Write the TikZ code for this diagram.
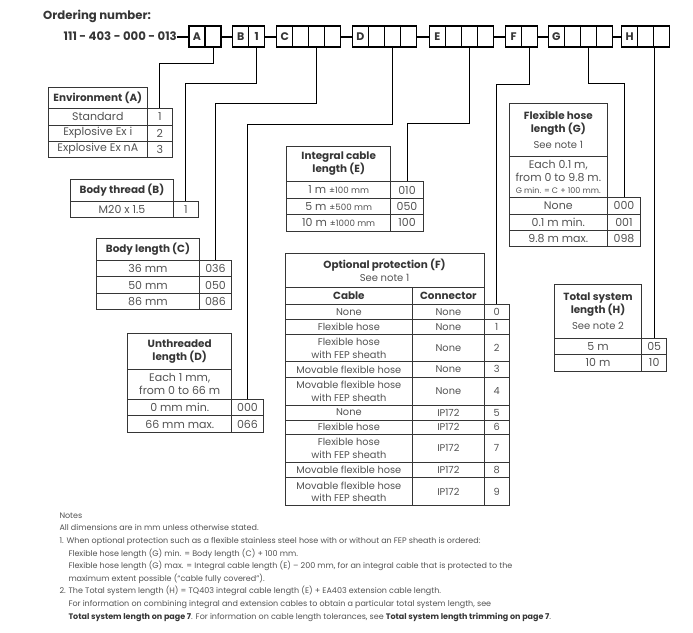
\documentclass[tikz,border=0pt]{standalone}
\usepackage{fontspec}
\setmainfont{Poppins}
\usetikzlibrary{calc}
\definecolor{txt}{HTML}{525252}
\definecolor{hdr}{HTML}{363636}
\newcommand\bodyf{\fontsize{11}{13.3}\selectfont}
\newcommand\hdrf{\fontsize{10.4}{13}\selectfont\bfseries}
\newcommand\opf{\fontsize{9.8}{12.8}\selectfont}
\newcommand\seef{\fontsize{10}{11}\selectfont\mdseries\color{txt}}
\newcommand\tinyf{\fontsize{8}{9}\selectfont}
\newcommand\smallpm{\fontsize{8.7}{10}\selectfont}
\newcommand\notef{\fontsize{8}{12.6}\selectfont}
\newcommand\topf{\fontsize{11}{13}\selectfont\bfseries}
\newcommand\titlef{\fontsize{11.7}{13}\selectfont\bfseries}
\newcommand\mkcell[7][]{\node[cellbox,#1,minimum width={(#5-#3)*1pt},minimum height={(#6-#4)*1pt}] (#2) at ({(#3+#5)/2},{(#4+#6)/2}) {#7};}
\begin{document}
\begin{tikzpicture}[x=1pt,y=-1pt,
 cellbox/.style={draw=hdr, line width=0.9pt, inner sep=0pt, align=center, text=txt, font=\bodyf},
 hdrbox/.style={text=hdr, font=\hdrf},
 opbox/.style={font=\opf},
 topcell/.style={draw=black, line width=1.2pt, inner sep=0pt, minimum width=16pt, minimum height=21pt, font=\topf, text=hdr},
 conn/.style={draw=black, line width=1pt},
 bar/.style={draw=black, line width=2pt}]
\useasboundingbox (0,0) rectangle (693,632);
% ordering number
\node[font=\titlef, text=hdr, anchor=west, inner sep=0pt] (title) at (43,16.5) {Ordering number:};
\node[font=\titlef, text=hdr, anchor=east, inner sep=0pt] (code) at (177,36.5) {111 - 403 - 000 - 013};
\node[topcell] (Aa) at (197,36.5) {A};
\node[topcell] (A1) at (213,36.5) {};
\node[topcell] (Ba) at (240.7,36.5) {B};
\node[topcell] (B1) at (256.7,36.5) {1};
\node[topcell] (Ca) at (284.7,36.5) {C};
\node[topcell] (C1) at (300.7,36.5) {};
\node[topcell] (C2) at (316.7,36.5) {};
\node[topcell] (C3) at (332.7,36.5) {};
\node[topcell] (Da) at (360.3,36.5) {D};
\node[topcell] (D1) at (376.3,36.5) {};
\node[topcell] (D2) at (392.3,36.5) {};
\node[topcell] (D3) at (408.3,36.5) {};
\node[topcell] (Ea) at (437.3,36.5) {E};
\node[topcell] (E1) at (453.3,36.5) {};
\node[topcell] (E2) at (469.3,36.5) {};
\node[topcell] (E3) at (485.3,36.5) {};
\node[topcell] (Fa) at (513.7,36.5) {F};
\node[topcell] (F1) at (529.7,36.5) {};
\node[topcell] (Ga) at (556.3,36.5) {G};
\node[topcell] (G1) at (572.3,36.5) {};
\node[topcell] (G2) at (588.3,36.5) {};
\node[topcell] (G3) at (604.3,36.5) {};
\node[topcell] (Ha) at (629.7,36.5) {H};
\node[topcell] (H1) at (645.7,36.5) {};
\node[topcell] (H2) at (661.7,36.5) {};
\draw[bar] (code.east) -- (Aa.west);
\draw[bar] (A1.east) -- (Ba.west);
\draw[bar] (B1.east) -- (Ca.west);
\draw[bar] (C3.east) -- (Da.west);
\draw[bar] (D3.east) -- (Ea.west);
\draw[bar] (E3.east) -- (Fa.west);
\draw[bar] (F1.east) -- (Ga.west);
\draw[bar] (G3.east) -- (Ha.west);
% Environment (A)
\mkcell[hdrbox]{envh}{48.3}{87.3}{147.3}{108.3}{Environment (A)}
\mkcell{envl1}{48.3}{108.3}{147.3}{125}{Standard}
\mkcell{envn1}{147.3}{108.3}{172.3}{125}{1}
\mkcell{envl2}{48.3}{125}{147.3}{141}{Explosive Ex i}
\mkcell{envn2}{147.3}{125}{172.3}{141}{2}
\mkcell{envl3}{48.3}{141}{147.3}{157.3}{Explosive Ex nA}
\mkcell{envn3}{147.3}{141}{172.3}{157.3}{3}
% Body thread (B)
\mkcell[hdrbox]{bth}{70.7}{179.3}{173.3}{201.7}{Body thread (B)}
\mkcell{btl1}{70.7}{201.7}{173.3}{217.3}{M20 x 1.5}
\mkcell{btn1}{173.3}{201.7}{198.3}{217.3}{1}
% Body length (C)
\mkcell[hdrbox]{blh}{96.7}{238.3}{199.3}{260}{Body length (C)}
\mkcell{bll1}{96.7}{260}{199.3}{276.7}{36 mm}
\mkcell{bln1}{199.3}{260}{231.7}{276.7}{036}
\mkcell{bll2}{96.7}{276.7}{199.3}{293.3}{50 mm}
\mkcell{bln2}{199.3}{276.7}{231.7}{293.3}{050}
\mkcell{bll3}{96.7}{293.3}{199.3}{309.3}{86 mm}
\mkcell{bln3}{199.3}{293.3}{231.7}{309.3}{086}
% Unthreaded length (D)
\mkcell[hdrbox]{uth}{127.7}{333.3}{231.7}{369.3}{Unthreaded\\length (D)}
\mkcell{uts}{127.7}{369.3}{231.7}{399.3}{Each 1 mm,\\from 0 to 66 m}
\mkcell{utl1}{127.7}{399.3}{231.7}{415.7}{0 mm min.}
\mkcell{utn1}{231.7}{399.3}{263.3}{415.7}{000}
\mkcell{utl2}{127.7}{415.7}{231.7}{432.3}{66 mm max.}
\mkcell{utn2}{231.7}{415.7}{263.3}{432.3}{066}
% Integral cable length (E)
\mkcell[hdrbox]{ich}{286.7}{146}{390.7}{181.7}{Integral cable\\length (E)}
\mkcell{icl1}{286.7}{181.7}{390.7}{198.3}{1 m {\smallpm ±100 mm}}
\mkcell{icn1}{390.7}{181.7}{423.3}{198.3}{010}
\mkcell{icl2}{286.7}{198.3}{390.7}{214.3}{5 m {\smallpm ±500 mm}}
\mkcell{icn2}{390.7}{198.3}{423.3}{214.3}{050}
\mkcell{icl3}{286.7}{214.3}{390.7}{231}{10 m {\smallpm ±1000 mm}}
\mkcell{icn3}{390.7}{214.3}{423.3}{231}{100}
% Optional protection (F)
\mkcell[hdrbox]{oph}{285}{253.3}{484}{287.3}{Optional protection (F)\\{\seef See note 1}}
\mkcell[hdrbox]{opc}{285}{287.3}{412.7}{304}{Cable}
\mkcell[hdrbox]{opk}{412.7}{287.3}{484}{304}{Connector}
\mkcell[opbox]{opa0}{285}{304}{412.7}{319.3}{None}
\mkcell[opbox]{opb0}{412.7}{304}{484}{319.3}{None}
\mkcell[opbox]{opn0}{484}{304}{509.3}{319.3}{0}
\mkcell[opbox]{opa1}{285}{319.3}{412.7}{334.3}{Flexible hose}
\mkcell[opbox]{opb1}{412.7}{319.3}{484}{334.3}{None}
\mkcell[opbox]{opn1}{484}{319.3}{509.3}{334.3}{1}
\mkcell[opbox]{opa2}{285}{334.3}{412.7}{361.7}{Flexible hose\\with FEP sheath}
\mkcell[opbox]{opb2}{412.7}{334.3}{484}{361.7}{None}
\mkcell[opbox]{opn2}{484}{334.3}{509.3}{361.7}{2}
\mkcell[opbox]{opa3}{285}{361.7}{412.7}{377}{Movable flexible hose}
\mkcell[opbox]{opb3}{412.7}{361.7}{484}{377}{None}
\mkcell[opbox]{opn3}{484}{361.7}{509.3}{377}{3}
\mkcell[opbox]{opa4}{285}{377}{412.7}{405}{Movable flexible hose\\with FEP sheath}
\mkcell[opbox]{opb4}{412.7}{377}{484}{405}{None}
\mkcell[opbox]{opn4}{484}{377}{509.3}{405}{4}
\mkcell[opbox]{opa5}{285}{405}{412.7}{420}{None}
\mkcell[opbox]{opb5}{412.7}{405}{484}{420}{IP172}
\mkcell[opbox]{opn5}{484}{405}{509.3}{420}{5}
\mkcell[opbox]{opa6}{285}{420}{412.7}{434.3}{Flexible hose}
\mkcell[opbox]{opb6}{412.7}{420}{484}{434.3}{IP172}
\mkcell[opbox]{opn6}{484}{420}{509.3}{434.3}{6}
\mkcell[opbox]{opa7}{285}{434.3}{412.7}{462.3}{Flexible hose\\with FEP sheath}
\mkcell[opbox]{opb7}{412.7}{434.3}{484}{462.3}{IP172}
\mkcell[opbox]{opn7}{484}{434.3}{509.3}{462.3}{7}
\mkcell[opbox]{opa8}{285}{462.3}{412.7}{477.7}{Movable flexible hose}
\mkcell[opbox]{opb8}{412.7}{462.3}{484}{477.7}{IP172}
\mkcell[opbox]{opn8}{484}{462.3}{509.3}{477.7}{8}
\mkcell[opbox]{opa9}{285}{477.7}{412.7}{505.7}{Movable flexible hose\\with FEP sheath}
\mkcell[opbox]{opb9}{412.7}{477.7}{484}{505.7}{IP172}
\mkcell[opbox]{opn9}{484}{477.7}{509.3}{505.7}{9}
% Flexible hose length (G)
\mkcell[hdrbox]{fhh}{509.3}{103.3}{607.3}{156}{Flexible hose\\length (G)\\[3pt]{\seef See note 1}}
\mkcell{fhs}{509.3}{156}{607.3}{197.3}{Each 0.1 m,\\from 0 to 9.8 m.\\[-1.5pt]{\tinyf G min. = C + 100 mm.}}
\mkcell{fhl1}{509.3}{197.3}{607.3}{214.3}{None}
\mkcell{fhn1}{607.3}{197.3}{640.7}{214.3}{000}
\mkcell{fhl2}{509.3}{214.3}{607.3}{230.3}{0.1 m min.}
\mkcell{fhn2}{607.3}{214.3}{640.7}{230.3}{001}
\mkcell{fhl3}{509.3}{230.3}{607.3}{246.7}{9.8 m max.}
\mkcell{fhn3}{607.3}{230.3}{640.7}{246.7}{098}
% Total system length (H)
\mkcell[hdrbox]{tsh}{554.3}{284.3}{641.7}{338.3}{Total system\\length (H)\\[3pt]{\seef See note 2}}
\mkcell{tsl1}{554.3}{338.3}{641.7}{354.3}{5 m}
\mkcell{tsn1}{641.7}{338.3}{666.7}{354.3}{05}
\mkcell{tsl2}{554.3}{354.3}{641.7}{371}{10 m}
\mkcell{tsn2}{641.7}{354.3}{666.7}{371}{10}
% connectors
\draw[conn] (A1.south) -- ++(0,16.3) -| (envn1.north);
\draw[conn] (B1.south) -- ++(0,36.3) -| (btn1.north);
\draw[conn] (C2.south) -- ++(0,56.3) -| (bln1.north);
\draw[conn] (D2.south) -- ++(0,77.3) -| (utn1.north);
\draw[conn] (E2.south) -- ++(0,76) -| (icn1.north);
\draw[conn] (F1.south) -- ++(0,37) -| (opn0.north);
\draw[conn] (G2.south) -- ++(0,36.3) -| (fhn1.north);
\draw[conn] (H1.south east) -- (H1.south east |- tsn1.north);
% notes
\node[anchor=north west, inner sep=0pt, align=left, font=\notef, text=txt] (notes) at (59.3,512.5) {Notes\\
All dimensions are in mm unless otherwise stated.\\
1. When optional protection such as a flexible stainless steel hose with or without an FEP sheath is ordered:\\
\hspace*{9pt}Flexible hose length (G) min. = Body length (C) + 100 mm.\\
\hspace*{9pt}Flexible hose length (G) max. = Integral cable length (E) – 200 mm, for an integral cable that is protected to the\\
\hspace*{9pt}maximum extent possible (“cable fully covered”).\\
2. The Total system length (H) = TQ403 integral cable length (E) + EA403 extension cable length.\\
\hspace*{9pt}For information on combining integral and extension cables to obtain a particular total system length, see\\
\hspace*{9pt}{\bfseries\color{hdr}Total system length on page 7}. For information on cable length tolerances, see {\bfseries\color{hdr}Total system length trimming on page 7}.};
\end{tikzpicture}
\end{document}
